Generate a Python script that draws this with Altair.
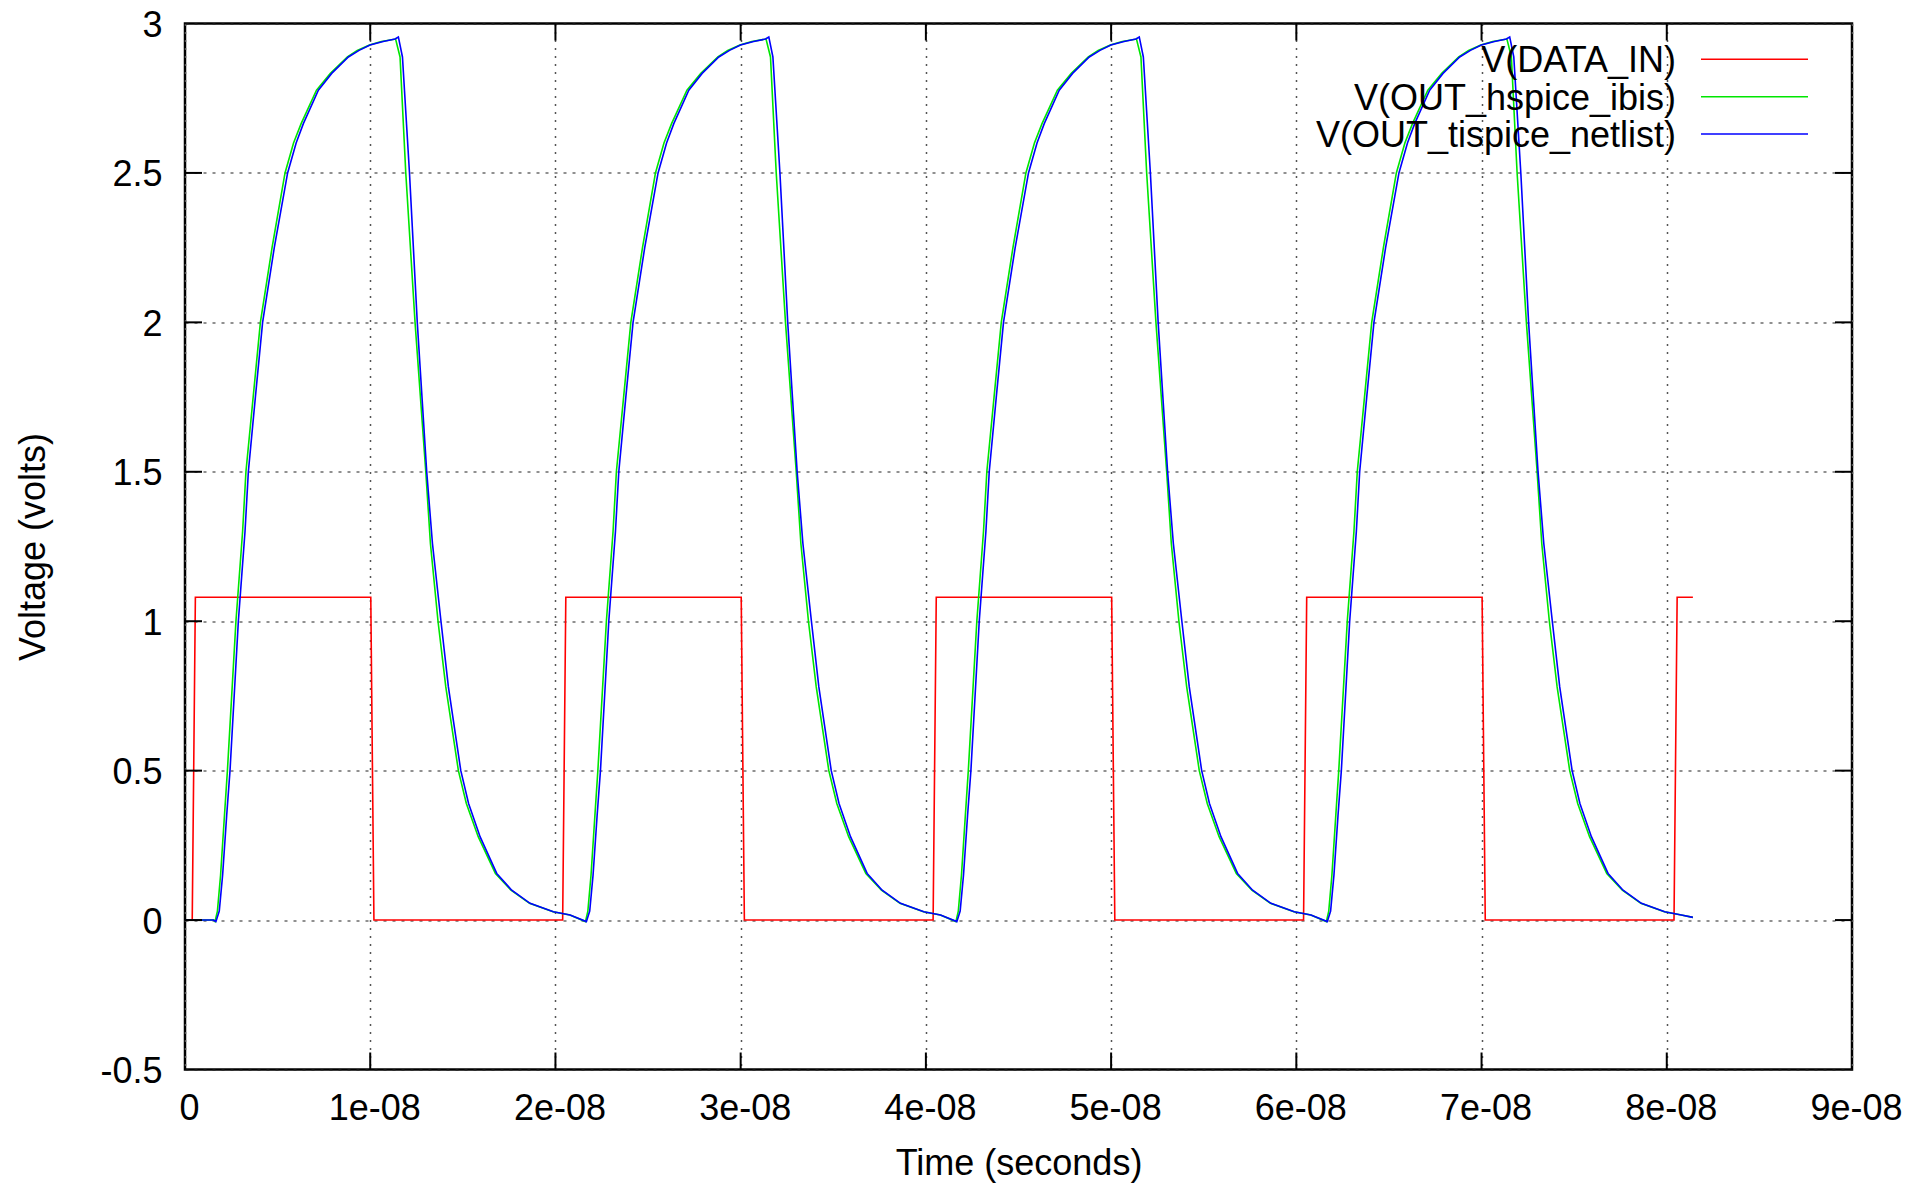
import altair as alt
import pandas as pd

# ---- data (time in ns, voltage in V) ----
series_names = ["V(DATA_IN)", "V(OUT_hspice_ibis)", "V(OUT_tispice_netlist)"]
series_colors = ["#ff0000", "#00e600", "#0000ff"]

red_t = [0, 0.39, 0.56, 10.03, 10.20, 20.39, 20.56, 30.03, 30.20, 40.39, 40.56,
         50.03, 50.20, 60.39, 60.56, 70.03, 70.20, 80.39, 80.56, 81.41]
red_v = [0, 0, 1.08, 1.08, 0, 0, 1.08, 1.08, 0, 0, 1.08,
         1.08, 0, 0, 1.08, 1.08, 0, 0, 1.08, 1.08]

# one 20 ns cycle of each output, read from the first period
green_cycle_t = [1.62, 1.75, 1.92, 2.13, 2.29, 2.75, 3.11, 3.29, 3.68, 4.07, 4.70, 5.40,
                 5.86, 6.27, 7.10, 7.85, 8.77, 9.30, 9.96, 10.60, 11.37, 11.61, 11.92,
                 12.42, 13.00, 13.25, 13.66, 14.08, 14.76, 15.19, 15.83, 16.76, 17.60,
                 18.60, 19.87, 20.78]
green_cycle_v = [-0.005, 0.03, 0.15, 0.35, 0.5, 1.0, 1.3, 1.5, 1.75, 2.0, 2.25, 2.5,
                 2.6, 2.665, 2.777, 2.833, 2.888, 2.91, 2.928, 2.94, 2.948, 2.888, 2.5,
                 2.0, 1.5, 1.26, 1.0, 0.78, 0.5, 0.39, 0.279, 0.156, 0.10,
                 0.056, 0.028, 0.017]
blue_cycle_t = [1.67, 1.85, 2.03, 2.25, 2.43, 2.88, 3.24, 3.42, 3.80, 4.19, 4.82, 5.54,
                6.00, 6.39, 7.20, 7.92, 8.82, 9.40, 9.99, 10.70, 11.34, 11.52, 11.74,
                12.12, 12.54, 13.05, 13.36, 13.82, 14.22, 14.89, 15.31, 15.93, 16.83,
                17.64, 18.63, 19.89, 20.79]
blue_cycle_v = [-0.005, 0.03, 0.15, 0.35, 0.5, 1.0, 1.3, 1.5, 1.75, 2.0, 2.25, 2.5,
                2.6, 2.665, 2.777, 2.833, 2.888, 2.91, 2.928, 2.94, 2.948, 2.955, 2.888,
                2.5, 2.0, 1.5, 1.26, 1.0, 0.78, 0.5, 0.39, 0.279, 0.156,
                0.10, 0.056, 0.028, 0.017]
green_start_t, green_start_v = [0, 1.55], [0, 0]
blue_start_t, blue_start_v = [0, 1.53], [0, 0]
period_ns = 20
n_cycles = 4
end_t = 81.41
end_v = 0.009

x_ticks = [0, 1e-8, 2e-8, 3e-8, 4e-8, 5e-8, 6e-8, 7e-8, 8e-8, 9e-8]
y_ticks = [-0.5, 0, 0.5, 1, 1.5, 2, 2.5, 3]


def build(start_t, start_v, cyc_t, cyc_v):
    ts, vs = list(start_t), list(start_v)
    for k in range(n_cycles):
        for t, v in zip(cyc_t, cyc_v):
            tt = t + period_ns * k
            if tt < end_t:
                ts.append(tt)
                vs.append(v)
    ts.append(end_t)
    vs.append(end_v)
    return ts, vs


rows = []
for name, (ts, vs) in zip(series_names, [
        (red_t, red_v),
        build(green_start_t, green_start_v, green_cycle_t, green_cycle_v),
        build(blue_start_t, blue_start_v, blue_cycle_t, blue_cycle_v)]):
    for i, (t, v) in enumerate(zip(ts, vs)):
        rows.append({"series": name, "t": t * 1e-9, "v": v, "i": i})
df = pd.DataFrame(rows)

W, H = 1667, 1046
FONT = "Liberation Sans"
FS = 36

xscale = alt.Scale(domain=[0, 9e-8], nice=False, zero=False)
yscale = alt.Scale(domain=[-0.5, 3], nice=False, zero=False)

x_axis = alt.Axis(
    values=x_ticks, title="Time (seconds)",
    labelExpr="datum.value == 0 ? '0' : round(datum.value * 1e8) + 'e-08'",
    ticks=False, tickSize=0, domain=False, labelPadding=22, labelOffset=4,
    labelFlush=False, labelOverlap=False, labelFont=FONT, labelFontSize=FS,
    labelColor="black", titleFont=FONT, titleFontSize=FS, titleFontWeight="normal",
    titleColor="black", titleBaseline="alphabetic", titleY=105, titleX=W / 2,
    grid=True, gridColor="#555555", gridDash=[2, 6], gridWidth=1.5)
y_axis = alt.Axis(
    values=y_ticks, title="Voltage (volts)", labelExpr="datum.value + ''",
    ticks=False, tickSize=0, domain=False, labelPadding=23, labelOffset=2,
    labelFlush=False, labelOverlap=False, labelFont=FONT, labelFontSize=FS,
    labelColor="black", titleFont=FONT, titleFontSize=FS, titleFontWeight="normal",
    titleColor="black", titleAngle=270, titleBaseline="alphabetic",
    titleAlign="center", titleX=-141, titleY=H / 2,
    grid=True, gridColor="#222222", gridDash=[3, 6], gridWidth=1.2)

X = alt.X("t:Q", scale=xscale, axis=x_axis)
Y = alt.Y("v:Q", scale=yscale, axis=y_axis)

lines = alt.Chart(df).mark_line(strokeWidth=1.6).encode(
    x=X, y=Y,
    color=alt.Color("series:N", scale=alt.Scale(domain=series_names, range=series_colors),
                    legend=None),
    detail="series:N",
    order=alt.Order("i:Q"),
)

xt = pd.DataFrame({"t": x_ticks[1:-1]})
yt = pd.DataFrame({"v": y_ticks[1:-1]})
tick_len = 17
tw = 2
xtick_b = alt.Chart(xt).mark_rule(color="black", strokeWidth=tw).encode(
    x=X, y=alt.value(H), y2=alt.value(H - tick_len))
xtick_t = alt.Chart(xt).mark_rule(color="black", strokeWidth=tw).encode(
    x=X, y=alt.value(0), y2=alt.value(tick_len))
ytick_l = alt.Chart(yt).mark_rule(color="black", strokeWidth=tw).encode(
    y=Y, x=alt.value(0), x2=alt.value(tick_len))
ytick_r = alt.Chart(yt).mark_rule(color="black", strokeWidth=tw).encode(
    y=Y, x=alt.value(W - tick_len), x2=alt.value(W))

# legend (gnuplot style: label then sample line, top right inside the frame)
one = pd.DataFrame({"a": [0]})
legend_layers = []
row_y = [35.8, 73.2, 110.5]
for name, col, ry in zip(series_names, series_colors, row_y):
    legend_layers.append(
        alt.Chart(one).mark_text(text=name, align="right", baseline="middle", font=FONT,
                                 fontSize=FS, color="black").encode(
            x=alt.value(1491), y=alt.value(ry + 2)))
    legend_layers.append(
        alt.Chart(one).mark_rule(color=col, strokeWidth=1.6).encode(
            x=alt.value(1516), x2=alt.value(1623), y=alt.value(ry)))

chart = alt.layer(lines, xtick_b, xtick_t, ytick_l, ytick_r, *legend_layers).properties(
    width=W, height=H,
    autosize=alt.AutoSizeParams(type="none"),
    padding={"left": 177, "top": 15.5, "right": 50, "bottom": 113},
    background="white",
).configure_view(stroke="black", strokeWidth=2.5)

chart.save("out.html", embed_options={"renderer": "svg", "actions": False})
